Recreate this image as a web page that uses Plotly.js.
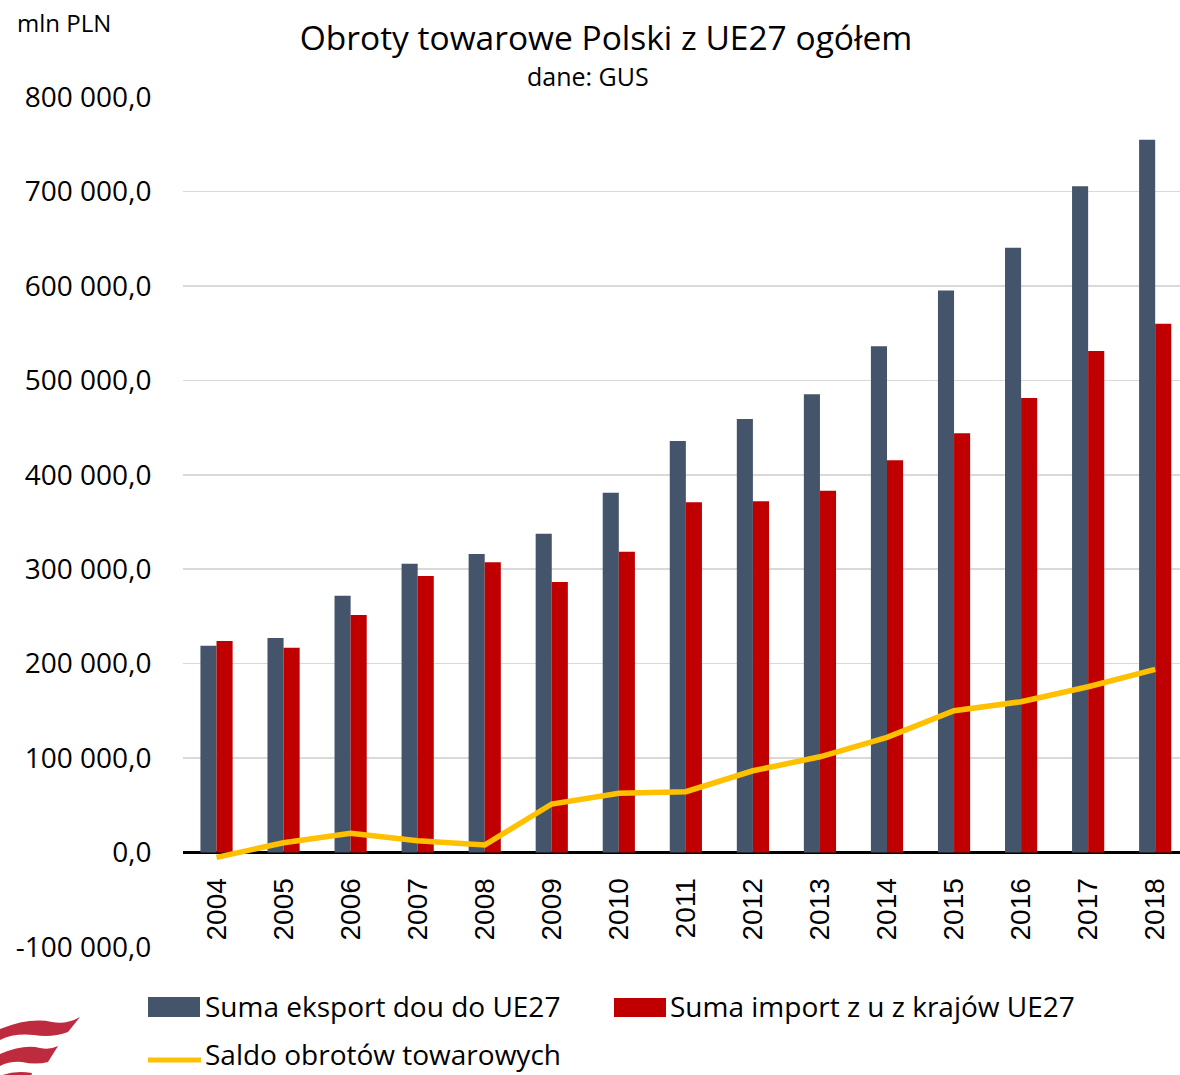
<!DOCTYPE html>
<html>
<head>
<meta charset="utf-8">
<script src="https://cdn.plot.ly/plotly-3.0.1.min.js"></script>
<style>
  html, body { margin: 0; padding: 0; background: #ffffff; }
  #chart { width: 1180px; height: 1075px; }
</style>
</head>
<body>
<div id="chart"></div>
<script>
// ---- data (mln PLN) ----
const years = ['2004','2005','2006','2007','2008','2009','2010','2011','2012','2013','2014','2015','2016','2017','2018'];
const eksport = [219000, 227100, 271900, 305800, 316100, 337600, 381000, 435700, 459000, 485200, 536000, 595000, 640400, 705400, 754800];
const importUE = [224000, 216900, 251500, 292800, 307300, 286400, 318500, 371000, 372000, 383000, 415500, 443900, 481300, 531000, 559900];
const saldo = [-5100, 10400, 20300, 12500, 8000, 51400, 62700, 64400, 86600, 101400, 122000, 150200, 159700, 175600, 194000];
const seriesNames = ['Suma eksport dou do UE27', 'Suma import z u z krajów UE27', 'Saldo obrotów towarowych'];
const yTicks = [-100000, 0, 100000, 200000, 300000, 400000, 500000, 600000, 700000, 800000];

const titleText = 'Obroty towarowe Polski z UE27 ogółem';
const subtitleText = 'dane: GUS';
const unitText = 'mln PLN';

const colors = { eksport: '#44546A', import: '#C00000', saldo: '#FFC000', logo: '#BE2A3E' };

// tick labels in Polish format: space thousands separator, comma decimal, hyphen minus
function fmtPL(v) {
  const neg = v < 0;
  const s = Math.abs(v).toFixed(0).replace(/\B(?=(\d{3})+(?!\d))/g, ' ');
  return (neg ? '-' : '') + s + ',0';
}
const yTickText = yTicks.map(fmtPL);

// ---- geometry helpers (page pixels -> paper coords) ----
const W = 1180, H = 1075;
const M = { l: 183, r: 0, t: 97, b: 128 };
const PW = W - M.l - M.r, PH = H - M.t - M.b;
const px = x => (x - M.l) / PW;
const py = y => (H - M.b - y) / PH;

const FONT = '"Open Sans", "Noto Sans", sans-serif';

const traces = [
  { type: 'bar', name: seriesNames[0], x: years, y: eksport, marker: { color: colors.eksport, line: { width: 0 } }, showlegend: false },
  { type: 'bar', name: seriesNames[1], x: years, y: importUE, marker: { color: colors.import, line: { width: 0 } }, showlegend: false },
  { type: 'scatter', mode: 'lines', name: seriesNames[2], x: years, y: saldo, line: { color: colors.saldo, width: 5.5 }, showlegend: false }
];

// logo path (decorative) defined in pixels, converted to paper
function pathFromPixels(cmds) {
  return cmds.map(c => {
    if (c[0] === 'Z') return 'Z';
    const pts = [];
    for (let i = 1; i < c.length; i += 2) pts.push(px(c[i]) + ',' + py(c[i + 1]));
    return c[0] + pts.join(' ');
  }).join(' ');
}
const stripe1 = pathFromPixels([
  ['M', 0, 1029], ['Q', 30, 1017, 52, 1022], ['Q', 66, 1025, 80, 1017],
  ['L', 68, 1032], ['Q', 52, 1038, 34, 1035], ['Q', 14, 1033, 0, 1040], ['Z']]);
const stripe2 = pathFromPixels([
  ['M', 0, 1054], ['Q', 24, 1044, 40, 1048], ['Q', 50, 1050, 58, 1046],
  ['L', 48, 1062], ['Q', 36, 1065, 22, 1062], ['Q', 10, 1061, 0, 1066], ['Z']]);
const stripe3 = pathFromPixels([
  ['M', 0, 1076], ['Q', 14, 1070, 32, 1073], ['L', 30, 1080], ['L', 0, 1080], ['Z']]);

const shapes = [
  { type: 'path', xref: 'paper', yref: 'paper', path: stripe1, fillcolor: colors.logo, line: { width: 0 } },
  { type: 'path', xref: 'paper', yref: 'paper', path: stripe2, fillcolor: colors.logo, line: { width: 0 } },
  { type: 'path', xref: 'paper', yref: 'paper', path: stripe3, fillcolor: colors.logo, line: { width: 0 } },
  // legend swatches
  { type: 'rect', xref: 'paper', yref: 'paper', x0: px(148), x1: px(200), y0: py(1017), y1: py(997), fillcolor: colors.eksport, line: { width: 0 } },
  { type: 'rect', xref: 'paper', yref: 'paper', x0: px(614), x1: px(666), y0: py(1017), y1: py(998), fillcolor: colors.import, line: { width: 0 } },
  { type: 'line', xref: 'paper', yref: 'paper', x0: px(148), x1: px(201), y0: py(1060), y1: py(1060), line: { color: colors.saldo, width: 5 } }
];

const annotations = [
  { text: unitText, xref: 'paper', yref: 'paper', x: px(15), y: py(22), xanchor: 'left', yanchor: 'middle', showarrow: false, font: { family: FONT, size: 24, color: '#000' } },
  { text: subtitleText, xref: 'paper', yref: 'paper', x: px(588), y: py(76), xanchor: 'center', yanchor: 'middle', showarrow: false, font: { family: FONT, size: 25, color: '#000' } },
  { text: seriesNames[0], xref: 'paper', yref: 'paper', x: px(203), y: py(1006), xanchor: 'left', yanchor: 'middle', showarrow: false, font: { family: FONT, size: 28, color: '#000' } },
  { text: seriesNames[1], xref: 'paper', yref: 'paper', x: px(668), y: py(1006), xanchor: 'left', yanchor: 'middle', showarrow: false, font: { family: FONT, size: 28, color: '#000' } },
  { text: seriesNames[2], xref: 'paper', yref: 'paper', x: px(203), y: py(1054), xanchor: 'left', yanchor: 'middle', showarrow: false, font: { family: FONT, size: 28, color: '#000' } }
];

const layout = {
  width: W, height: H,
  margin: M,
  paper_bgcolor: '#ffffff', plot_bgcolor: '#ffffff',
  showlegend: false,
  hovermode: false,
  barmode: 'group',
  bargap: 0.52,
  bargroupgap: 0,
  title: {
    text: titleText,
    font: { family: FONT, size: 33.5, color: '#000' },
    xref: 'container', yref: 'container',
    x: 606 / W, xanchor: 'center',
    y: 1 - 38 / H, yanchor: 'middle'
  },
  xaxis: {
    type: 'category',
    range: [-0.5, 14.37],
    anchor: 'free',
    position: (H - M.b - 852) / PH,
    showline: false, showgrid: false, zeroline: false,
    tickangle: -90,
    ticks: 'outside', ticklen: 14, tickcolor: 'rgba(0,0,0,0)',
    tickfont: { family: '"Liberation Sans", Arial, sans-serif', size: 28, color: '#000' },
    automargin: false
  },
  yaxis: {
    range: [-100000, 800000],
    tickmode: 'array',
    tickvals: yTicks,
    ticktext: yTickText,
    showgrid: true, gridcolor: '#D9D9D9', gridwidth: 1.5,
    zeroline: true, zerolinecolor: '#000000', zerolinewidth: 3.5,
    showline: false,
    ticks: 'outside', ticklen: 25, tickcolor: 'rgba(0,0,0,0)',
    tickfont: { family: FONT, size: 28, color: '#000' },
    automargin: false
  },
  shapes: shapes,
  annotations: annotations
};

Plotly.newPlot('chart', traces, layout, { displayModeBar: false, staticPlot: true });
</script>
</body>
</html>
